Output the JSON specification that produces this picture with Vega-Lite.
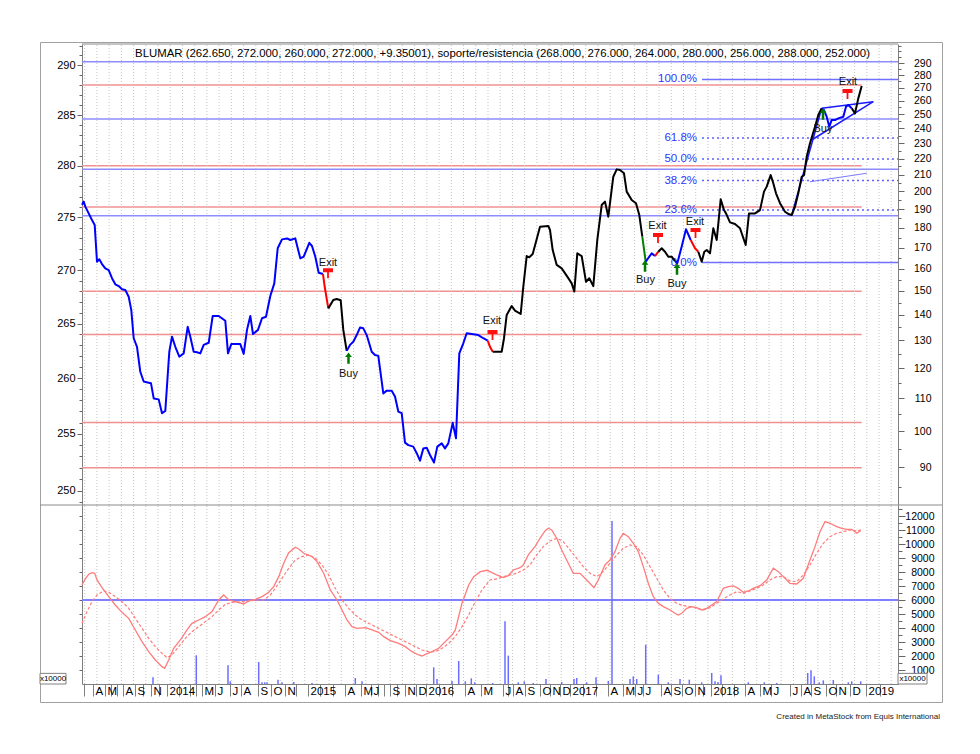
{
"$schema":"https://vega.github.io/schema/vega-lite/v6.json",
"width":902,"height":660,
"autosize":{"type":"none"},
"padding":{"left":40,"top":42,"right":38,"bottom":52},
"background":"white",
"config":{"view":{"stroke":"#a0a0a0","strokeWidth":1},"font":"Liberation Sans","text":{"font":"Liberation Sans"},
 "axis":{"labelFont":"Liberation Sans","labelFontSize":11,"labelColor":"#000000","tickColor":"#666666","domainColor":"#808080"}},
"title":{"text":"Created in MetaStock from Equis International","orient":"bottom","anchor":"end","frame":"group","fontSize":8,"fontWeight":"normal","color":"#222222","offset":11,"dx":-2,"font":"Liberation Sans"},
"datasets":{
 "price":[
{"n":0,"p":192.5,"s":1,"c":"b"},{"n":1.7,"p":194.2,"s":1,"c":"b"},{"n":3.3,"p":191.4,"s":1,"c":"b"},{"n":6.7,"p":187.7,"s":1,"c":"b"},{"n":10,"p":184.1,"s":1,"c":"b"},{"n":12.7,"p":181.5,"s":1,"c":"b"},{"n":15,"p":163.2,"s":1,"c":"b"},{"n":17.3,"p":164.4,"s":1,"c":"b"},{"n":20,"p":162.1,"s":1,"c":"b"},{"n":23.3,"p":160.1,"s":1,"c":"b"},{"n":26.7,"p":159.3,"s":1,"c":"b"},{"n":30,"p":155.6,"s":1,"c":"b"},{"n":33.3,"p":152.9,"s":1,"c":"b"},{"n":36.7,"p":152.1,"s":1,"c":"b"},{"n":40,"p":150.7,"s":1,"c":"b"},{"n":43.3,"p":150.4,"s":1,"c":"b"},{"n":46.7,"p":147.5,"s":1,"c":"b"},{"n":49.3,"p":141.9,"s":1,"c":"b"},{"n":51.7,"p":130.8,"s":1,"c":"b"},{"n":55,"p":127.6,"s":1,"c":"b"},{"n":58.3,"p":118.7,"s":1,"c":"b"},{"n":61.7,"p":115.4,"s":1,"c":"b"},{"n":66.7,"p":115.0,"s":1,"c":"b"},{"n":69,"p":114.8,"s":1,"c":"b"},{"n":71.7,"p":109.9,"s":1,"c":"b"},{"n":76.7,"p":109.6,"s":1,"c":"b"},{"n":80,"p":105.3,"s":1,"c":"b"},{"n":83.3,"p":106.0,"s":1,"c":"b"},{"n":87.3,"p":125.8,"s":1,"c":"b"},{"n":90,"p":131.4,"s":1,"c":"b"},{"n":93.3,"p":127.6,"s":1,"c":"b"},{"n":97.3,"p":124.0,"s":1,"c":"b"},{"n":101.7,"p":125.2,"s":1,"c":"b"},{"n":105.7,"p":135.2,"s":1,"c":"b"},{"n":108.3,"p":131.4,"s":1,"c":"b"},{"n":111.7,"p":125.8,"s":1,"c":"b"},{"n":115,"p":125.6,"s":1,"c":"b"},{"n":118.3,"p":125.2,"s":1,"c":"b"},{"n":121.7,"p":128.3,"s":1,"c":"b"},{"n":126.7,"p":129.1,"s":1,"c":"b"},{"n":130.7,"p":139.5,"s":1,"c":"b"},{"n":136.7,"p":139.5,"s":1,"c":"b"},{"n":143.3,"p":137.6,"s":1,"c":"b"},{"n":146,"p":125.2,"s":1,"c":"b"},{"n":149.3,"p":128.6,"s":1,"c":"b"},{"n":158.3,"p":128.6,"s":1,"c":"b"},{"n":161.7,"p":125.0,"s":1,"c":"b"},{"n":165,"p":134.0,"s":1,"c":"b"},{"n":168.3,"p":139.5,"s":1,"c":"b"},{"n":171,"p":132.4,"s":1,"c":"b"},{"n":176,"p":134.0,"s":1,"c":"b"},{"n":180,"p":138.6,"s":1,"c":"b"},{"n":184,"p":139.2,"s":1,"c":"b"},{"n":188.3,"p":147.8,"s":1,"c":"b"},{"n":192.3,"p":153.3,"s":1,"c":"b"},{"n":195.7,"p":169.7,"s":1,"c":"b"},{"n":200,"p":174.1,"s":1,"c":"b"},{"n":205,"p":174.6,"s":1,"c":"b"},{"n":208.3,"p":173.8,"s":1,"c":"b"},{"n":213.3,"p":174.6,"s":1,"c":"b"},{"n":218.3,"p":164.8,"s":1,"c":"b"},{"n":221.7,"p":165.6,"s":1,"c":"b"},{"n":227.3,"p":172.4,"s":1,"c":"b"},{"n":230,"p":170.8,"s":1,"c":"b"},{"n":233.3,"p":165.6,"s":1,"c":"b"},{"n":236.7,"p":158.1,"s":1,"c":"b"},{"n":241,"p":157.5,"s":1,"c":"b"},
{"n":241,"p":157.5,"s":2,"c":"r"},{"n":242.7,"p":151.8,"s":2,"c":"r"},{"n":246.3,"p":142.6,"s":2,"c":"r"},
{"n":246.3,"p":142.6,"s":3,"c":"k"},{"n":251.3,"p":146.1,"s":3,"c":"k"},{"n":254.7,"p":146.5,"s":3,"c":"k"},{"n":258.7,"p":146.0,"s":3,"c":"k"},{"n":261.3,"p":134.0,"s":3,"c":"k"},{"n":264.7,"p":126.1,"s":3,"c":"k"},
{"n":264.7,"p":126.1,"s":4,"c":"b"},{"n":268,"p":128.3,"s":4,"c":"b"},{"n":271.3,"p":129.5,"s":4,"c":"b"},{"n":274.7,"p":132.0,"s":4,"c":"b"},{"n":278,"p":134.9,"s":4,"c":"b"},{"n":281.3,"p":134.6,"s":4,"c":"b"},{"n":284.7,"p":132.0,"s":4,"c":"b"},{"n":289.7,"p":125.8,"s":4,"c":"b"},{"n":293,"p":124.6,"s":4,"c":"b"},{"n":296.3,"p":124.3,"s":4,"c":"b"},{"n":301.3,"p":111.5,"s":4,"c":"b"},{"n":304.7,"p":112.4,"s":4,"c":"b"},{"n":309.7,"p":112.4,"s":4,"c":"b"},{"n":313,"p":110.5,"s":4,"c":"b"},{"n":316.3,"p":105.8,"s":4,"c":"b"},{"n":319.7,"p":105.3,"s":4,"c":"b"},{"n":323,"p":96.7,"s":4,"c":"b"},{"n":326.3,"p":96.0,"s":4,"c":"b"},{"n":331.3,"p":95.6,"s":4,"c":"b"},{"n":334.7,"p":93.8,"s":4,"c":"b"},{"n":338,"p":91.8,"s":4,"c":"b"},{"n":341.3,"p":95.1,"s":4,"c":"b"},{"n":344.7,"p":95.3,"s":4,"c":"b"},{"n":348,"p":93.3,"s":4,"c":"b"},{"n":352,"p":91.3,"s":4,"c":"b"},{"n":355.3,"p":95.6,"s":4,"c":"b"},{"n":359.7,"p":96.5,"s":4,"c":"b"},{"n":363,"p":95.1,"s":4,"c":"b"},{"n":366.3,"p":96.5,"s":4,"c":"b"},{"n":370.7,"p":102.4,"s":4,"c":"b"},{"n":374,"p":97.9,"s":4,"c":"b"},{"n":377.3,"p":125.2,"s":4,"c":"b"},{"n":381.3,"p":128.9,"s":4,"c":"b"},{"n":384.7,"p":132.7,"s":4,"c":"b"},{"n":389.7,"p":132.4,"s":4,"c":"b"},{"n":396.3,"p":132.0,"s":4,"c":"b"},{"n":401.3,"p":130.8,"s":4,"c":"b"},{"n":405.7,"p":129.9,"s":4,"c":"b"},
{"n":405.7,"p":129.9,"s":5,"c":"r"},{"n":408,"p":127.6,"s":5,"c":"r"},{"n":410.7,"p":125.8,"s":5,"c":"r"},
{"n":410.7,"p":125.8,"s":6,"c":"k"},{"n":414.7,"p":125.8,"s":6,"c":"k"},{"n":419.7,"p":125.8,"s":6,"c":"k"},{"n":422,"p":130.8,"s":6,"c":"k"},{"n":424.7,"p":139.9,"s":6,"c":"k"},{"n":429.7,"p":143.6,"s":6,"c":"k"},{"n":433,"p":141.7,"s":6,"c":"k"},{"n":438.7,"p":140.3,"s":6,"c":"k"},{"n":441.3,"p":151.8,"s":6,"c":"k"},{"n":444.7,"p":165.9,"s":6,"c":"k"},{"n":447.3,"p":165.3,"s":6,"c":"k"},{"n":450.7,"p":166.9,"s":6,"c":"k"},{"n":454,"p":172.9,"s":6,"c":"k"},{"n":458,"p":180.6,"s":6,"c":"k"},{"n":466.3,"p":181.0,"s":6,"c":"k"},{"n":468,"p":178.9,"s":6,"c":"k"},{"n":470.7,"p":168.8,"s":6,"c":"k"},{"n":474.7,"p":161.7,"s":6,"c":"k"},{"n":479.7,"p":160.1,"s":6,"c":"k"},{"n":485.3,"p":156.3,"s":6,"c":"k"},{"n":489.7,"p":153.3,"s":6,"c":"k"},{"n":492.3,"p":149.7,"s":6,"c":"k"},{"n":495.3,"p":167.2,"s":6,"c":"k"},{"n":499.7,"p":165.9,"s":6,"c":"k"},{"n":504,"p":154.0,"s":6,"c":"k"},{"n":507.3,"p":155.6,"s":6,"c":"k"},{"n":511.3,"p":152.1,"s":6,"c":"k"},{"n":515.3,"p":173.8,"s":6,"c":"k"},{"n":519.7,"p":192.3,"s":6,"c":"k"},{"n":523,"p":194.2,"s":6,"c":"k"},{"n":526.3,"p":185.9,"s":6,"c":"k"},{"n":531.3,"p":208.7,"s":6,"c":"k"},{"n":534.7,"p":213.2,"s":6,"c":"k"},{"n":538,"p":212.8,"s":6,"c":"k"},{"n":542,"p":210.8,"s":6,"c":"k"},{"n":544.7,"p":199.9,"s":6,"c":"k"},{"n":549.7,"p":195.1,"s":6,"c":"k"},{"n":554,"p":193.3,"s":6,"c":"k"},{"n":557.3,"p":186.8,"s":6,"c":"k"},{"n":560.3,"p":175.5,"s":6,"c":"k"},
{"n":560.3,"p":175.5,"s":7,"c":"g"},{"n":563.7,"p":163.2,"s":7,"c":"g"},
{"n":563.7,"p":163.2,"s":8,"c":"b"},{"n":567.3,"p":165.6,"s":8,"c":"b"},{"n":569.7,"p":167.2,"s":8,"c":"b"},{"n":573,"p":165.9,"s":8,"c":"b"},
{"n":573,"p":165.9,"s":9,"c":"r"},{"n":576.3,"p":168.0,"s":9,"c":"r"},
{"n":576.3,"p":168.0,"s":10,"c":"k"},{"n":579.7,"p":169.7,"s":10,"c":"k"},{"n":583,"p":168.0,"s":10,"c":"k"},{"n":586.3,"p":165.6,"s":10,"c":"k"},{"n":589.7,"p":165.6,"s":10,"c":"k"},{"n":593,"p":163.5,"s":10,"c":"k"},
{"n":593,"p":163.5,"s":11,"c":"b"},{"n":595.3,"p":162.5,"s":11,"c":"b"},{"n":599.7,"p":170.5,"s":11,"c":"b"},{"n":604,"p":179.3,"s":11,"c":"b"},{"n":608.7,"p":173.8,"s":11,"c":"b"},
{"n":608.7,"p":173.8,"s":12,"c":"r"},{"n":613,"p":169.7,"s":12,"c":"r"},{"n":616.3,"p":168.0,"s":12,"c":"r"},
{"n":616.3,"p":168.0,"s":13,"c":"k"},{"n":619.7,"p":163.2,"s":13,"c":"k"},{"n":622.3,"p":168.0,"s":13,"c":"k"},{"n":624.7,"p":168.8,"s":13,"c":"k"},{"n":628,"p":167.2,"s":13,"c":"k"},{"n":631.3,"p":179.8,"s":13,"c":"k"},{"n":634.7,"p":173.8,"s":13,"c":"k"},{"n":638.7,"p":195.5,"s":13,"c":"k"},{"n":642,"p":189.5,"s":13,"c":"k"},{"n":644,"p":187.7,"s":13,"c":"k"},{"n":648,"p":182.9,"s":13,"c":"k"},{"n":653,"p":182.0,"s":13,"c":"k"},{"n":658,"p":179.8,"s":13,"c":"k"},{"n":663.7,"p":171.3,"s":13,"c":"k"},{"n":667,"p":187.7,"s":13,"c":"k"},{"n":673,"p":187.7,"s":13,"c":"k"},{"n":678,"p":189.5,"s":13,"c":"k"},{"n":682,"p":199.9,"s":13,"c":"k"},{"n":684.7,"p":202.8,"s":13,"c":"k"},{"n":688.7,"p":209.7,"s":13,"c":"k"},{"n":691.3,"p":204.8,"s":13,"c":"k"},{"n":694,"p":198.9,"s":13,"c":"k"},{"n":698,"p":193.3,"s":13,"c":"k"},{"n":703,"p":188.6,"s":13,"c":"k"},{"n":706.3,"p":187.4,"s":13,"c":"k"},{"n":709.7,"p":186.8,"s":13,"c":"k"},{"n":713,"p":191.4,"s":13,"c":"k"},{"n":716.3,"p":198.9,"s":13,"c":"k"},{"n":719.7,"p":208.7,"s":13,"c":"k"},{"n":722,"p":209.7,"s":13,"c":"k"},{"n":724.7,"p":221.1,"s":13,"c":"k"},{"n":728,"p":229.9,"s":13,"c":"k"},{"n":733,"p":241.2,"s":13,"c":"k"},{"n":736.3,"p":249.5,"s":13,"c":"k"},{"n":739.7,"p":254.4,"s":13,"c":"k"},
{"n":739.7,"p":254.4,"s":14,"c":"b"},{"n":742,"p":253.1,"s":14,"c":"b"},{"n":744.7,"p":248.3,"s":14,"c":"b"},{"n":747.3,"p":241.2,"s":14,"c":"b"},{"n":749.7,"p":245.9,"s":14,"c":"b"},{"n":753,"p":245.9,"s":14,"c":"b"},{"n":756.3,"p":247.1,"s":14,"c":"b"},{"n":761.3,"p":248.3,"s":14,"c":"b"},{"n":764,"p":255.6,"s":14,"c":"b"},{"n":766.3,"p":256.8,"s":14,"c":"b"},{"n":769.7,"p":254.4,"s":14,"c":"b"},
{"n":769.7,"p":254.4,"s":15,"c":"k"},{"n":773,"p":250.7,"s":15,"c":"k"},{"n":776.3,"p":261.8,"s":15,"c":"k"},{"n":779.7,"p":271.3,"s":15,"c":"k"}
 ],
 "levels":[
{"v":288,"c":"r","n1":0,"n2":779.7},{"v":280,"c":"r","n1":0,"n2":779.7},{"v":276,"c":"r","n1":0,"n2":779.7},{"v":268,"c":"r","n1":0,"n2":779.7},{"v":264,"c":"r","n1":0,"n2":779.7},{"v":256,"c":"r","n1":0,"n2":779.7},{"v":252,"c":"r","n1":0,"n2":779.7},
{"v":290.36,"c":"b","n1":0,"n2":816},{"v":284.6,"c":"b","n1":0,"n2":816},{"v":279.66,"c":"b","n1":0,"n2":816},{"v":275.17,"c":"b","n1":0,"n2":816}
 ],
 "fib":[
{"lab":"100.0%","p":276.5,"d":"s"},{"lab":"61.8%","p":233.4,"d":"d"},{"lab":"50.0%","p":219.7,"d":"d"},{"lab":"38.2%","p":206.4,"d":"d"},{"lab":"23.6%","p":189.5,"d":"d"},{"lab":"0.0%","p":162.8,"d":"s"}
 ],
 "trend":[
{"id":"t1","n":709.7,"p":186.8},{"id":"t1","n":739.7,"p":254.4},
{"id":"t2","n":739.7,"p":254.4},{"id":"t2","n":791.3,"p":259.3},
{"id":"t3","n":729.7,"p":232.1},{"id":"t3","n":791.3,"p":259.3},
{"id":"t4","n":728,"p":205.7},{"id":"t4","n":784.7,"p":210.8}
 ],
 "signals":[
{"k":"exit","n":246,"p":157.8},{"k":"exit","n":410.5,"p":132.0},{"k":"exit","n":576,"p":174.8},{"k":"exit","n":613.5,"p":177.3},{"k":"exit","n":765.5,"p":265.1},
{"k":"buy","n":266.5,"p":123.5},{"k":"buy","n":563,"p":161.2},{"k":"buy","n":595,"p":159.8},{"k":"buy","n":741,"p":250.2}
 ],
 "sigtext":[
{"t":"Exit","n":246,"p":162.6},{"t":"Exit","n":410,"p":137.5},{"t":"Exit","n":575.5,"p":181.0},{"t":"Exit","n":613,"p":183.1},{"t":"Exit","n":766,"p":274.5},
{"t":"Buy","n":266.5,"p":118.0},{"t":"Buy","n":563.5,"p":154.8},{"t":"Buy","n":595,"p":153.0},{"t":"Buy","n":741,"p":239.6}
 ],
 "grid":[{"n":2.7},{"n":14.9},{"n":27.1},{"n":39.4},{"n":51.6},{"n":63.8},{"n":76.0},{"n":88.2},{"n":100.5},{"n":112.7},{"n":124.9},{"n":137.1},{"n":149.3},{"n":161.6},{"n":173.8},{"n":186.0},{"n":198.2},{"n":210.4},{"n":222.7},{"n":234.9},{"n":247.1},{"n":259.3},{"n":271.5},{"n":283.8},{"n":296.0},{"n":308.2},{"n":320.4},{"n":332.6},{"n":344.9},{"n":357.1},{"n":369.3},{"n":381.5},{"n":393.7},{"n":406.0},{"n":418.2},{"n":430.4},{"n":442.6},{"n":454.8},{"n":467.1},{"n":479.3},{"n":491.5},{"n":503.7},{"n":515.9},{"n":528.2},{"n":540.4},{"n":552.6},{"n":564.8},{"n":577.0},{"n":589.3},{"n":601.5},{"n":613.7},{"n":625.9},{"n":638.1},{"n":650.4},{"n":662.6},{"n":674.8},{"n":687.0},{"n":699.2},{"n":711.5},{"n":723.7},{"n":735.9},{"n":748.1},{"n":760.3},{"n":772.6},{"n":784.8},{"n":797.0},{"n":809.2}],
 "osc":[
{"t":"s","n":0,"v":7082},{"t":"s","n":3.3,"v":7511},{"t":"s","n":6.7,"v":7845},{"t":"s","n":10,"v":7964},{"t":"s","n":12.7,"v":7916},{"t":"s","n":15,"v":7439},{"t":"s","n":20,"v":6891},{"t":"s","n":26.7,"v":6247},{"t":"s","n":33.3,"v":5651},{"t":"s","n":40,"v":5126},{"t":"s","n":46.7,"v":4697},{"t":"s","n":53.3,"v":3863},{"t":"s","n":60,"v":3028},{"t":"s","n":66.7,"v":2313},{"t":"s","n":73.3,"v":1717},{"t":"s","n":80,"v":1240},{"t":"s","n":82.7,"v":1121},{"t":"s","n":86.7,"v":1717},{"t":"s","n":91.7,"v":2551},{"t":"s","n":98.3,"v":3147},{"t":"s","n":105,"v":3863},{"t":"s","n":110,"v":4340},{"t":"s","n":116.7,"v":4578},{"t":"s","n":123.3,"v":4816},{"t":"s","n":130,"v":5174},{"t":"s","n":136.7,"v":6009},{"t":"s","n":141.7,"v":6366},{"t":"s","n":146.7,"v":6009},{"t":"s","n":153.3,"v":5889},{"t":"s","n":161.7,"v":5722},{"t":"s","n":166.7,"v":5937},{"t":"s","n":173.3,"v":6056},{"t":"s","n":180,"v":6247},{"t":"s","n":186.7,"v":6557},{"t":"s","n":191.7,"v":6962},{"t":"s","n":196.7,"v":7677},{"t":"s","n":201.7,"v":8631},{"t":"s","n":206.7,"v":9394},{"t":"s","n":213.3,"v":9776},{"t":"s","n":216.7,"v":9657},{"t":"s","n":221.7,"v":9347},{"t":"s","n":230,"v":9108},{"t":"s","n":235,"v":8750},{"t":"s","n":241.7,"v":7916},{"t":"s","n":248.3,"v":6724},{"t":"s","n":255,"v":6009},{"t":"s","n":260,"v":5293},{"t":"s","n":265,"v":4578},{"t":"s","n":270,"v":4101},{"t":"s","n":275,"v":3982},{"t":"s","n":283.3,"v":4029},{"t":"s","n":290,"v":3863},{"t":"s","n":296.7,"v":3696},{"t":"s","n":301.7,"v":3386},{"t":"s","n":308.3,"v":3099},{"t":"s","n":316.7,"v":2909},{"t":"s","n":323.3,"v":2670},{"t":"s","n":330,"v":2313},{"t":"s","n":336.7,"v":2074},{"t":"s","n":340,"v":2003},{"t":"s","n":343.3,"v":2122},{"t":"s","n":350,"v":2313},{"t":"s","n":356.7,"v":2551},{"t":"s","n":363.3,"v":3028},{"t":"s","n":370,"v":3505},{"t":"s","n":373.3,"v":3863},{"t":"s","n":380,"v":5770},{"t":"s","n":386.7,"v":7082},{"t":"s","n":391.7,"v":7677},{"t":"s","n":398.3,"v":8035},{"t":"s","n":405,"v":8131},
{"t":"s","n":408,"v":8035},{"t":"s","n":414.7,"v":7797},{"t":"s","n":421.3,"v":7606},{"t":"s","n":426.3,"v":7749},{"t":"s","n":431.3,"v":8154},{"t":"s","n":438,"v":8321},{"t":"s","n":441.3,"v":8512},{"t":"s","n":446.3,"v":9227},{"t":"s","n":453,"v":9824},{"t":"s","n":458,"v":10420},{"t":"s","n":463,"v":10944},{"t":"s","n":466.3,"v":11135},{"t":"s","n":469.7,"v":11016},{"t":"s","n":474.7,"v":10420},{"t":"s","n":479.7,"v":9585},{"t":"s","n":486.3,"v":8631},{"t":"s","n":491.3,"v":7916},{"t":"s","n":498,"v":7916},{"t":"s","n":504.7,"v":7439},{"t":"s","n":512,"v":6891},{"t":"s","n":516.3,"v":7439},{"t":"s","n":523,"v":8512},{"t":"s","n":528,"v":8870},{"t":"s","n":533,"v":9466},{"t":"s","n":538,"v":10420},{"t":"s","n":541.3,"v":10777},{"t":"s","n":546.3,"v":10539},{"t":"s","n":551.3,"v":10062},{"t":"s","n":556.3,"v":9466},{"t":"s","n":561.3,"v":8393},{"t":"s","n":566.3,"v":7201},{"t":"s","n":571.3,"v":6247},{"t":"s","n":576.3,"v":5770},{"t":"s","n":581.3,"v":5531},{"t":"s","n":588,"v":5293},{"t":"s","n":593,"v":5055},{"t":"s","n":596.3,"v":4936},{"t":"s","n":599.7,"v":5055},{"t":"s","n":604.7,"v":5413},{"t":"s","n":609.7,"v":5531},{"t":"s","n":614.7,"v":5460},{"t":"s","n":619.7,"v":5293},{"t":"s","n":624.7,"v":5413},{"t":"s","n":629.7,"v":5651},{"t":"s","n":634.7,"v":5889},{"t":"s","n":638,"v":6366},{"t":"s","n":641.3,"v":6843},{"t":"s","n":646.3,"v":6962},{"t":"s","n":651.3,"v":7010},{"t":"s","n":656.3,"v":6843},{"t":"s","n":661.3,"v":6557},{"t":"s","n":666.3,"v":6652},{"t":"s","n":671.3,"v":6843},{"t":"s","n":678,"v":7034},{"t":"s","n":684.7,"v":7439},{"t":"s","n":691.3,"v":8274},{"t":"s","n":696.3,"v":8035},{"t":"s","n":701.3,"v":7677},{"t":"s","n":708,"v":7201},{"t":"s","n":714.7,"v":7153},{"t":"s","n":721.3,"v":7558},{"t":"s","n":728,"v":8870},{"t":"s","n":733,"v":9824},{"t":"s","n":738,"v":10896},{"t":"s","n":743,"v":11611},{"t":"s","n":748,"v":11493},{"t":"s","n":754.7,"v":11254},{"t":"s","n":759.7,"v":11135},{"t":"s","n":764.7,"v":11063},{"t":"s","n":769.7,"v":11063},{"t":"s","n":774.7,"v":10777},{"t":"s","n":778.7,"v":10968},
{"t":"d","n":0,"v":4340},{"t":"d","n":5,"v":5174},{"t":"d","n":10,"v":5889},{"t":"d","n":15,"v":6366},{"t":"d","n":21.7,"v":6652},{"t":"d","n":26.7,"v":6557},{"t":"d","n":33.3,"v":6247},{"t":"d","n":40,"v":5889},{"t":"d","n":46.7,"v":5413},{"t":"d","n":53.3,"v":4697},{"t":"d","n":60,"v":3982},{"t":"d","n":66.7,"v":3267},{"t":"d","n":73.3,"v":2670},{"t":"d","n":80,"v":2194},{"t":"d","n":85,"v":1883},{"t":"d","n":90,"v":2074},{"t":"d","n":96.7,"v":2670},{"t":"d","n":103.3,"v":3267},{"t":"d","n":110,"v":3743},{"t":"d","n":116.7,"v":4101},{"t":"d","n":123.3,"v":4459},{"t":"d","n":130,"v":4816},{"t":"d","n":136.7,"v":5293},{"t":"d","n":143.3,"v":5699},{"t":"d","n":150,"v":5842},{"t":"d","n":160,"v":5889},{"t":"d","n":166.7,"v":5937},{"t":"d","n":173.3,"v":5985},{"t":"d","n":181.7,"v":6009},{"t":"d","n":188.3,"v":6366},{"t":"d","n":193.3,"v":6843},{"t":"d","n":200,"v":7558},{"t":"d","n":206.7,"v":8274},{"t":"d","n":213.3,"v":8870},{"t":"d","n":220,"v":9108},{"t":"d","n":226.7,"v":9227},{"t":"d","n":233.3,"v":8989},{"t":"d","n":240,"v":8512},{"t":"d","n":246.7,"v":7797},{"t":"d","n":253.3,"v":6843},{"t":"d","n":260,"v":6009},{"t":"d","n":266.7,"v":5413},{"t":"d","n":273.3,"v":4936},{"t":"d","n":280,"v":4578},{"t":"d","n":286.7,"v":4340},{"t":"d","n":293.3,"v":4101},{"t":"d","n":300,"v":3863},{"t":"d","n":306.7,"v":3624},{"t":"d","n":313.3,"v":3386},{"t":"d","n":320,"v":3147},{"t":"d","n":326.7,"v":2909},{"t":"d","n":333.3,"v":2670},{"t":"d","n":340,"v":2432},{"t":"d","n":346.7,"v":2313},{"t":"d","n":353.3,"v":2313},{"t":"d","n":360,"v":2551},{"t":"d","n":366.7,"v":2909},{"t":"d","n":373.3,"v":3386},{"t":"d","n":380,"v":4101},{"t":"d","n":386.7,"v":4936},{"t":"d","n":393.3,"v":5889},{"t":"d","n":400,"v":6724},
{"t":"d","n":408,"v":7439},{"t":"d","n":414.7,"v":7511},{"t":"d","n":421.3,"v":7677},{"t":"d","n":428,"v":7797},{"t":"d","n":434.7,"v":7916},{"t":"d","n":441.3,"v":8154},{"t":"d","n":448,"v":8512},{"t":"d","n":454.7,"v":9227},{"t":"d","n":461.3,"v":9824},{"t":"d","n":468,"v":10229},{"t":"d","n":474.7,"v":10420},{"t":"d","n":481.3,"v":10181},{"t":"d","n":488,"v":9585},{"t":"d","n":494.7,"v":8989},{"t":"d","n":501.3,"v":8393},{"t":"d","n":508,"v":7916},{"t":"d","n":514.7,"v":7677},{"t":"d","n":521.3,"v":8035},{"t":"d","n":528,"v":8631},{"t":"d","n":534.7,"v":9227},{"t":"d","n":541.3,"v":9704},{"t":"d","n":548,"v":9943},{"t":"d","n":554.7,"v":9824},{"t":"d","n":561.3,"v":9227},{"t":"d","n":568,"v":8393},{"t":"d","n":574.7,"v":7558},{"t":"d","n":581.3,"v":6724},{"t":"d","n":588,"v":6128},{"t":"d","n":594.7,"v":5770},{"t":"d","n":601.3,"v":5603},{"t":"d","n":608,"v":5531},{"t":"d","n":614.7,"v":5413},{"t":"d","n":621.3,"v":5293},{"t":"d","n":628,"v":5460},{"t":"d","n":634.7,"v":5770},{"t":"d","n":641.3,"v":6080},{"t":"d","n":648,"v":6366},{"t":"d","n":654.7,"v":6604},{"t":"d","n":661.3,"v":6485},{"t":"d","n":668,"v":6652},{"t":"d","n":674.7,"v":6843},{"t":"d","n":681.3,"v":7082},{"t":"d","n":688,"v":7439},{"t":"d","n":694.7,"v":7677},{"t":"d","n":701.3,"v":7677},{"t":"d","n":708,"v":7368},{"t":"d","n":714.7,"v":7320},{"t":"d","n":721.3,"v":7797},{"t":"d","n":728,"v":8512},{"t":"d","n":734.7,"v":9347},{"t":"d","n":741.3,"v":10062},{"t":"d","n":748,"v":10539},{"t":"d","n":754.7,"v":10777},{"t":"d","n":761.3,"v":10896},{"t":"d","n":768,"v":11016},{"t":"d","n":774.7,"v":10944},{"t":"d","n":778.7,"v":11016}
 ],
 "vol":[
{"n":71,"v":477},{"n":114.3,"v":2051},{"n":146,"v":1335},{"n":148.3,"v":191},{"n":176.7,"v":1574},{"n":180,"v":119},{"n":182.7,"v":119},{"n":185,"v":119},{"n":196,"v":310},{"n":200,"v":119},{"n":211.7,"v":143},{"n":230,"v":72},{"n":273.3,"v":429},{"n":280,"v":191},{"n":351.7,"v":1192},{"n":355,"v":358},{"n":370,"v":215},{"n":376.7,"v":1645},{"n":383.3,"v":191},{"n":389.3,"v":405},{"n":392.7,"v":119},
{"n":410.7,"v":72},{"n":423,"v":4483},{"n":426.3,"v":2027},{"n":436.3,"v":119},{"n":442.3,"v":191},{"n":451.3,"v":72},{"n":464,"v":358},{"n":479.7,"v":143},{"n":492,"v":358},{"n":494.7,"v":429},{"n":504.7,"v":119},{"n":514,"v":477},{"n":526.3,"v":215},{"n":530,"v":11660},{"n":548,"v":358},{"n":551.3,"v":548},{"n":554.7,"v":358},{"n":563.7,"v":2813},{"n":576.3,"v":668},{"n":586.3,"v":119},{"n":598,"v":358},{"n":607.3,"v":310},{"n":619.7,"v":119},{"n":629.7,"v":787},{"n":633,"v":191},{"n":636,"v":143},{"n":639,"v":620},{"n":666.3,"v":119},{"n":682.3,"v":119},{"n":694.7,"v":72},{"n":725.7,"v":787},{"n":729,"v":978},{"n":732.3,"v":548},{"n":737.3,"v":119},{"n":741.3,"v":262},{"n":751.3,"v":286},{"n":766.3,"v":119},{"n":769.7,"v":191},{"n":778.7,"v":191}
 ],
 "boxes":[{"x1":-42,"x2":-16,"y1":0,"y2":760,"xm":-29,"ym":330,"t":"x10000"},{"x1":816,"x2":845,"y1":0,"y2":760,"xm":830.5,"ym":330,"t":"x10000"}]
},
"resolve":{"scale":{"y":"independent"},"axis":{"y":"independent"}},
"layer":[
  {"data":{"values":[{"n":400}]},"mark":{"type":"point","opacity":0},
   "encoding":{"x":{"field":"n","type":"quantitative","scale":{"domain":[0,816],"range":[42,858],"nice":false,"zero":false},
     "axis":{"orient":"bottom","offset":-18,"tickCount":500,"values":[2,11,23,29,35,41,53,61,69,77,85,97,108,114,120,133,148,159,176,189,203,214,226,238,251,263,279,289,296,302,308,315,323,334,344,357,370,383,399,421,426,431,443,458,468,478,488,501,514,526,541,553,561,579,589,600,613,621,629,640,652,663,678,689,708,719,729,744,754,768,784,798],
      "labelExpr":"['','A','M','','','A','S','','N','','2014','','','','M','J','J','A','S','O','N','','2015','','','A','M','J','','','S','','N','D','2016','','','A','M','J','','A','S','O','N','D','2017','','','A','M','J','J','A','S','O','N','','2018','','','A','M','J','J','A','S','O','N','D','2019',''][indexof([2,11,23,29,35,41,53,61,69,77,85,97,108,114,120,133,148,159,176,189,203,214,226,238,251,263,279,289,296,302,308,315,323,334,344,357,370,383,399,421,426,431,443,458,468,478,488,501,514,526,541,553,561,579,589,600,613,621,629,640,652,663,678,689,708,719,729,744,754,768,784,798], datum.value)]",
      "tickSize":12,"labelPadding":-11,"labelAlign":"left","labelBaseline":"top","labelOffset":2,"labelFontSize":11.5,"domain":true,"grid":false,"title":null,"tickColor":"#808080","labelOverlap":false,"labelFlush":false,"labelBound":false,"ticks":true,"labels":true}},
    "y":{"datum":1,"type":"quantitative","scale":{"domain":[0,10],"range":[642,463]},"axis":null}}},
  {"data":{"name":"levels"},"transform":[{"filter":"datum.c==='r'"}],"mark":{"type":"rule","color":"#f29090","strokeWidth":1.5},
   "encoding":{"x":{"field":"n1","type":"quantitative","scale":{"domain":[0,816],"range":[42,858],"nice":false,"zero":false}},"x2":{"field":"n2"},
    "y":{"field":"v","type":"quantitative","scale":{"type":"log","domain":[248.74,292.16],"range":[463,2],"nice":false},"axis":null}}},
  {"data":{"name":"levels"},"transform":[{"filter":"datum.c==='b'"}],"mark":{"type":"rule","color":"#8c8cff","strokeWidth":1.5},
   "encoding":{"x":{"field":"n1","type":"quantitative","scale":{"domain":[0,816],"range":[42,858],"nice":false,"zero":false}},"x2":{"field":"n2"},
    "y":{"field":"v","type":"quantitative","scale":{"type":"log","domain":[248.74,292.16],"range":[463,2],"nice":false},"axis":null}}},
  {"data":{"name":"grid"},"mark":{"type":"rule","color":"#c4c4c4","strokeDash":[1,2],"strokeWidth":1},
   "encoding":{"x":{"field":"n","type":"quantitative","scale":{"domain":[0,816],"range":[42,858],"nice":false,"zero":false}},
    "y":{"datum":80.74,"type":"quantitative","scale":{"type":"log","domain":[80.74,306.4],"range":[463,2],"nice":false},"axis":null},
    "y2":{"datum":306.4}}},
  {"data":{"values":[{"p":306.4,"a":0,"b":816},{"p":80.74,"a":-42,"b":860}]},"mark":{"type":"rule","color":"#8a8a8a","strokeWidth":1},
   "encoding":{"x":{"field":"a","type":"quantitative","scale":{"domain":[0,816],"range":[42,858],"nice":false,"zero":false}},"x2":{"field":"b"},
    "y":{"field":"p","type":"quantitative","scale":{"type":"log","domain":[80.74,306.4],"range":[463,2],"nice":false},"axis":null}}},
  {"data":{"name":"fib"},"transform":[{"filter":"datum.d==='s'"}],"mark":{"type":"rule","color":"#7070ff","strokeWidth":1.5},
   "encoding":{"x":{"datum":620,"type":"quantitative","scale":{"domain":[0,816],"range":[42,858],"nice":false,"zero":false}},"x2":{"datum":816},
    "y":{"field":"p","type":"quantitative","scale":{"type":"log","domain":[80.74,306.4],"range":[463,2],"nice":false},"axis":null}}},
  {"data":{"name":"fib"},"transform":[{"filter":"datum.d==='d'"}],"mark":{"type":"rule","color":"#6060ff","strokeWidth":1.5,"strokeDash":[2,3]},
   "encoding":{"x":{"datum":620,"type":"quantitative","scale":{"domain":[0,816],"range":[42,858],"nice":false,"zero":false}},"x2":{"datum":816},
    "y":{"field":"p","type":"quantitative","scale":{"type":"log","domain":[80.74,306.4],"range":[463,2],"nice":false},"axis":null}}},
  {"data":{"name":"fib"},"mark":{"type":"text","align":"right","baseline":"middle","fontSize":11.5,"color":"#3333ff"},
   "encoding":{"x":{"datum":615,"type":"quantitative","scale":{"domain":[0,816],"range":[42,858],"nice":false,"zero":false}},
    "y":{"field":"p","type":"quantitative","scale":{"type":"log","domain":[80.74,306.4],"range":[463,2],"nice":false},"axis":null},"text":{"field":"lab"}}},
  {"data":{"name":"trend"},"transform":[{"filter":"datum.id!=='t4'"}],"mark":{"type":"line","color":"#1a1aff","strokeWidth":1.5},
   "encoding":{"x":{"field":"n","type":"quantitative","scale":{"domain":[0,816],"range":[42,858],"nice":false,"zero":false}},
    "y":{"field":"p","type":"quantitative","scale":{"type":"log","domain":[80.74,306.4],"range":[463,2],"nice":false},"axis":null},"detail":{"field":"id","type":"nominal"}}},
  {"data":{"name":"trend"},"transform":[{"filter":"datum.id==='t4'"}],"mark":{"type":"line","color":"#7a7aff","strokeWidth":1},
   "encoding":{"x":{"field":"n","type":"quantitative","scale":{"domain":[0,816],"range":[42,858],"nice":false,"zero":false}},
    "y":{"field":"p","type":"quantitative","scale":{"type":"log","domain":[80.74,306.4],"range":[463,2],"nice":false},"axis":null}}},
  {"data":{"name":"price"},"mark":{"type":"line","strokeWidth":2,"strokeJoin":"round"},
   "encoding":{"x":{"field":"n","type":"quantitative","scale":{"domain":[0,816],"range":[42,858],"nice":false,"zero":false}},
    "y":{"field":"p","type":"quantitative","scale":{"type":"log","domain":[80.74,306.4],"range":[463,2],"nice":false},"axis":null},
    "detail":{"field":"s","type":"nominal"},
    "color":{"field":"c","type":"nominal","scale":{"domain":["b","k","r","g"],"range":["#0000ff","#000000","#ff0000","#008000"]},"legend":null}}},
  {"data":{"name":"signals"},"transform":[{"filter":"datum.k==='exit'"}],"mark":{"type":"point","filled":true,"color":"#ff1010","opacity":1,"size":100,"shape":"M-1,-1L1,-1L1,-0.2L0.18,-0.2L0.18,1L-0.18,1L-0.18,-0.2L-1,-0.2Z"},
   "encoding":{"x":{"field":"n","type":"quantitative","scale":{"domain":[0,816],"range":[42,858],"nice":false,"zero":false}},
    "y":{"field":"p","type":"quantitative","scale":{"type":"log","domain":[80.74,306.4],"range":[463,2],"nice":false},"axis":null}}},
  {"data":{"name":"signals"},"transform":[{"filter":"datum.k==='buy'"}],"mark":{"type":"point","filled":true,"color":"#007a00","opacity":1,"size":130,"shape":"M0,-1L0.6,-0.2L0.22,-0.2L0.22,1L-0.22,1L-0.22,-0.2L-0.6,-0.2Z"},
   "encoding":{"x":{"field":"n","type":"quantitative","scale":{"domain":[0,816],"range":[42,858],"nice":false,"zero":false}},
    "y":{"field":"p","type":"quantitative","scale":{"type":"log","domain":[80.74,306.4],"range":[463,2],"nice":false},"axis":null}}},
  {"data":{"name":"sigtext"},"mark":{"type":"text","fontSize":11,"color":"#111111","align":"center","baseline":"middle"},
   "encoding":{"x":{"field":"n","type":"quantitative","scale":{"domain":[0,816],"range":[42,858],"nice":false,"zero":false}},
    "y":{"field":"p","type":"quantitative","scale":{"type":"log","domain":[80.74,306.4],"range":[463,2],"nice":false},"axis":null},"text":{"field":"t"}}},
  {"data":{"values":[{"t":"BLUMAR (262.650, 272.000, 260.000, 272.000, +9.35001), soporte/resistencia (268.000, 276.000, 264.000, 280.000, 256.000, 288.000, 252.000)"}]},
   "mark":{"type":"text","fontSize":11.4,"color":"#000000","align":"center","baseline":"middle"},
   "encoding":{"x":{"datum":420.5,"type":"quantitative","scale":{"domain":[0,816],"range":[42,858],"nice":false,"zero":false}},
    "y":{"datum":297.6,"type":"quantitative","scale":{"type":"log","domain":[80.74,306.4],"range":[463,2],"nice":false},"axis":null},"text":{"field":"t"}}},
  {"data":{"name":"grid"},"mark":{"type":"rule","color":"#c4c4c4","strokeDash":[1,2],"strokeWidth":1},
   "encoding":{"x":{"field":"n","type":"quantitative","scale":{"domain":[0,816],"range":[42,858],"nice":false,"zero":false}},
    "y":{"datum":0,"type":"quantitative","scale":{"domain":[0,12800],"range":[642,463],"nice":false,"zero":false},"axis":null},
    "y2":{"datum":12800}}},
  {"data":{"values":[{"v":6000}]},"mark":{"type":"rule","color":"#8080ff","strokeWidth":2},
   "encoding":{"x":{"datum":0,"type":"quantitative","scale":{"domain":[0,816],"range":[42,858],"nice":false,"zero":false}},"x2":{"datum":816},
    "y":{"field":"v","type":"quantitative","scale":{"domain":[0,12800],"range":[642,463],"nice":false,"zero":false},"axis":null}}},
  {"data":{"name":"vol"},"mark":{"type":"rule","color":"#6c6cff","strokeWidth":1.5},
   "encoding":{"x":{"field":"n","type":"quantitative","scale":{"domain":[0,816],"range":[42,858],"nice":false,"zero":false}},
    "y":{"field":"v","type":"quantitative","scale":{"domain":[0,12800],"range":[642,463],"nice":false,"zero":false},"axis":null},"y2":{"datum":0}}},
  {"data":{"name":"osc"},"transform":[{"filter":"datum.t==='s'"}],"mark":{"type":"line","color":"#ff7c7c","strokeWidth":1.3},
   "encoding":{"x":{"field":"n","type":"quantitative","scale":{"domain":[0,816],"range":[42,858],"nice":false,"zero":false}},
    "y":{"field":"v","type":"quantitative","scale":{"domain":[0,12800],"range":[642,463],"nice":false,"zero":false},"axis":null}}},
  {"data":{"name":"osc"},"transform":[{"filter":"datum.t==='d'"}],"mark":{"type":"line","color":"#ff7c7c","strokeWidth":1.2,"strokeDash":[3,2]},
   "encoding":{"x":{"field":"n","type":"quantitative","scale":{"domain":[0,816],"range":[42,858],"nice":false,"zero":false}},
    "y":{"field":"v","type":"quantitative","scale":{"domain":[0,12800],"range":[642,463],"nice":false,"zero":false},"axis":null}}},
  {"data":{"name":"boxes"},"mark":{"type":"rect","fill":"#ffffff","stroke":"#808080","strokeWidth":1},
   "encoding":{"x":{"field":"x1","type":"quantitative","scale":{"domain":[0,816],"range":[42,858],"nice":false,"zero":false}},"x2":{"field":"x2"},
    "y":{"field":"y1","type":"quantitative","scale":{"domain":[0,12800],"range":[642,463],"nice":false,"zero":false},"axis":null},"y2":{"field":"y2"}}},
  {"data":{"name":"boxes"},"mark":{"type":"text","fontSize":8,"color":"#000000","align":"center","baseline":"middle"},
   "encoding":{"x":{"field":"xm","type":"quantitative","scale":{"domain":[0,816],"range":[42,858],"nice":false,"zero":false}},
    "y":{"field":"ym","type":"quantitative","scale":{"domain":[0,12800],"range":[642,463],"nice":false,"zero":false},"axis":null},"text":{"field":"t"}}},
  {"data":{"values":[{"v":270}]},"mark":{"type":"point","opacity":0},
   "encoding":{"y":{"field":"v","type":"quantitative","scale":{"type":"log","domain":[248.74,292.16],"range":[463,2],"nice":false},
    "axis":{"orient":"left","offset":-42,"tickCount":500,"values":[250,255,260,265,270,275,280,285,290],"tickSize":5,"labelPadding":2,"domain":true,"grid":false,"title":null,"labelOverlap":false,"format":"d"}}}},
  {"data":{"values":[{"v":270}]},"mark":{"type":"point","opacity":0},
   "encoding":{"y":{"field":"v","type":"quantitative","scale":{"type":"log","domain":[248.74,292.16],"range":[463,2],"nice":false},
    "axis":{"orient":"left","offset":-42,"tickCount":500,"values":[249,251,252,253,254,256,257,258,259,261,262,263,264,266,267,268,269,271,272,273,274,276,277,278,279,281,282,283,284,286,287,288,289,291,292],"tickSize":3,"labels":false,"domain":false,"grid":false,"title":null}}}},
  {"data":{"values":[{"v":150}]},"mark":{"type":"point","opacity":0},
   "encoding":{"y":{"field":"v","type":"quantitative","scale":{"type":"log","domain":[80.74,306.4],"range":[463,2],"nice":false},
    "axis":{"orient":"right","offset":-44,"tickCount":500,"values":[90,100,110,120,130,140,150,160,170,180,190,200,210,220,230,240,250,260,270,280,290],"tickSize":6,"labelAlign":"right","labelPadding":27,"labelFontSize":10.5,"domain":true,"grid":false,"title":null,"labelOverlap":false,"format":"d"}}}},
  {"data":{"values":[{"v":150}]},"mark":{"type":"point","opacity":0},
   "encoding":{"y":{"field":"v","type":"quantitative","scale":{"type":"log","domain":[80.74,306.4],"range":[463,2],"nice":false},
    "axis":{"orient":"right","offset":-44,"tickCount":500,"values":[85,95,105,115,125,135,145,155,165,175,185,195,205,215,225,235,245,255,265,275,285,295,300,305],"tickSize":3,"labels":false,"domain":false,"grid":false,"title":null}}}},
  {"data":{"values":[{"v":5000}]},"mark":{"type":"point","opacity":0},
   "encoding":{"y":{"field":"v","type":"quantitative","scale":{"domain":[0,12800],"range":[642,463],"nice":false,"zero":false},
    "axis":{"orient":"right","offset":-44,"tickCount":500,"values":[1000,2000,3000,4000,5000,6000,7000,8000,9000,10000,11000,12000],"tickSize":7,"labelAlign":"right","labelPadding":29,"labelFontSize":10.5,"domain":true,"grid":false,"title":null,"labelOverlap":false,"format":"d"}}}},
  {"data":{"values":[{"v":5000}]},"mark":{"type":"point","opacity":0},
   "encoding":{"y":{"field":"v","type":"quantitative","scale":{"domain":[0,12800],"range":[642,463],"nice":false,"zero":false},
    "axis":{"orient":"right","offset":-44,"tickCount":500,"values":[500,1500,2500,3500,4500,5500,6500,7500,8500,9500,10500,11500,12500],"tickSize":4,"labels":false,"domain":false,"grid":false,"title":null}}}},
  {"data":{"values":[{"v":5000}]},"mark":{"type":"point","opacity":0},
   "encoding":{"y":{"field":"v","type":"quantitative","scale":{"domain":[0,12800],"range":[642,463],"nice":false,"zero":false},
    "axis":{"orient":"left","offset":-42,"tickCount":500,"values":[1000,2000,3000,4000,5000,6000,7000,8000,9000,10000,11000,12000],"tickSize":3,"labels":false,"domain":true,"grid":false,"title":null}}}}
]
}
